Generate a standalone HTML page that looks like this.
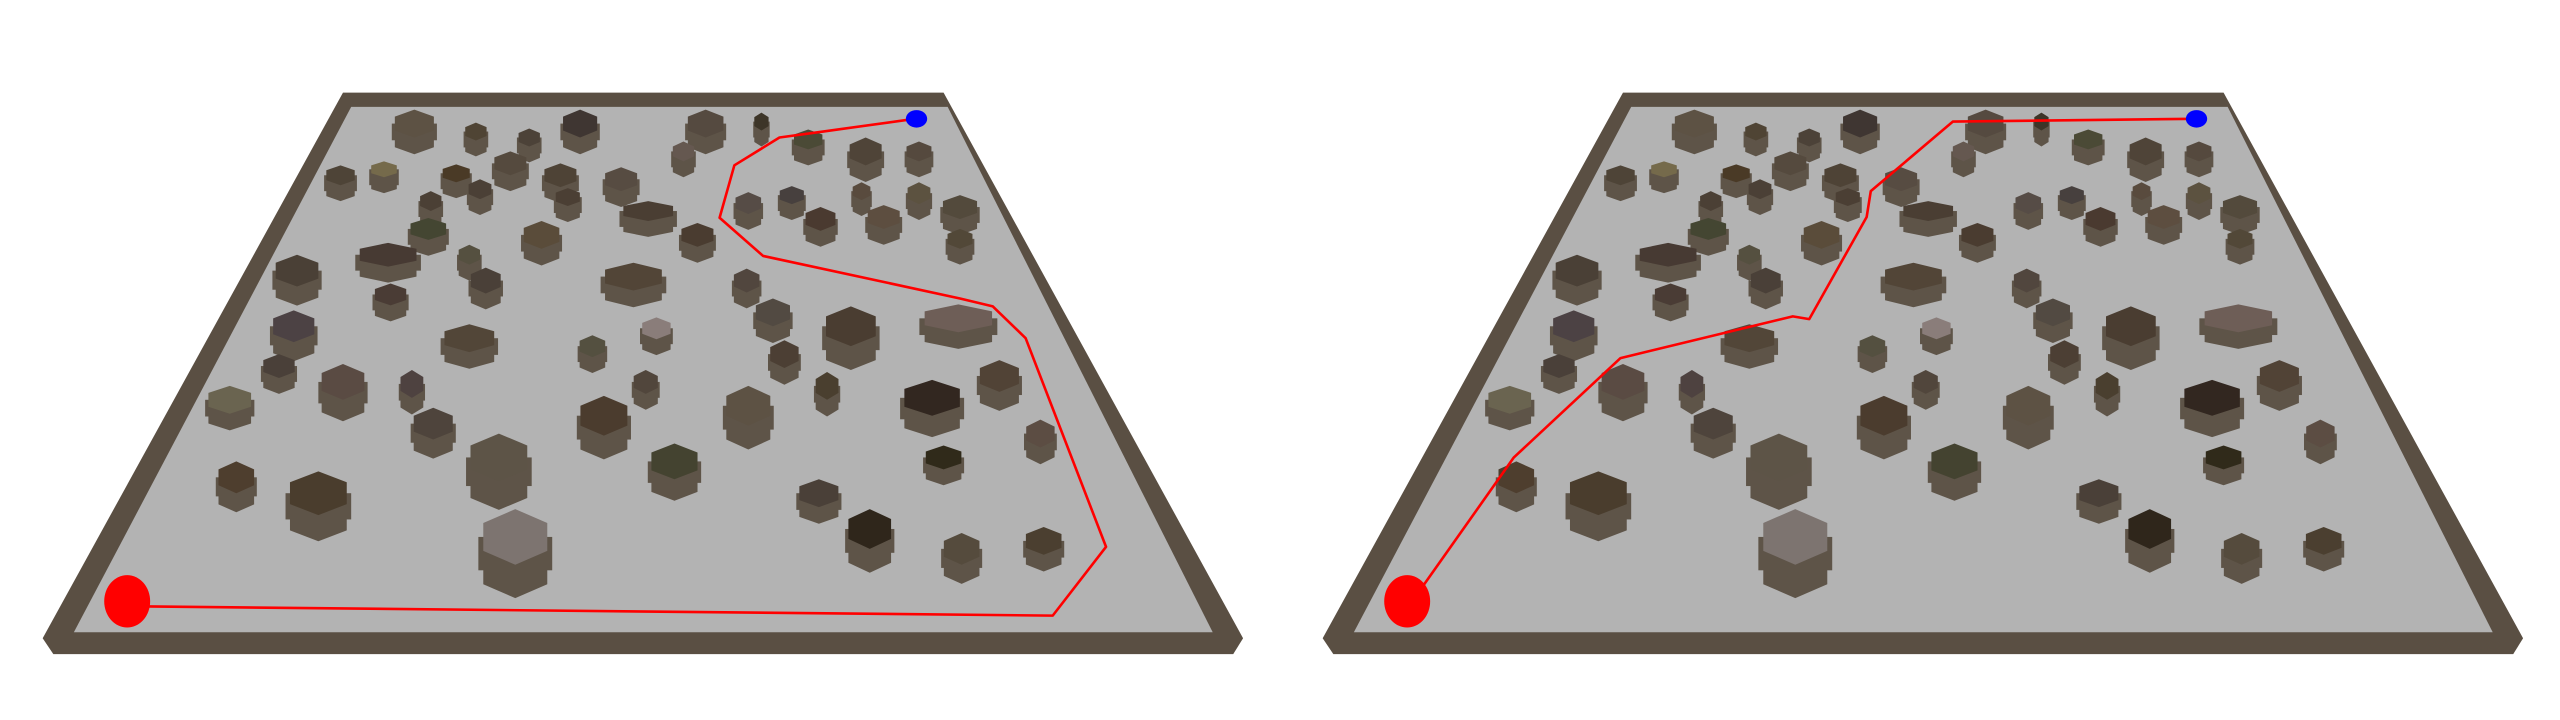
<!DOCTYPE html>
<html><head><meta charset="utf-8"><style>
html,body{margin:0;padding:0;background:#fff;width:2560px;height:720px;overflow:hidden}
svg{position:absolute;top:60px;width:1280px;height:620px}
</style></head><body>
<svg id="p0" style="left:0" viewBox="0 0 1560 1560" preserveAspectRatio="none"></svg>
<svg id="p1" style="left:1280px" viewBox="0 0 1560 1560" preserveAspectRatio="none"></svg>
<script>
const obsX=[505,580,645,707,860,928,985,1055,1120,833,415,468,556,622,585,683,692,757,790,525,912,965,1050,1120,1170,1000,1077,1170,850,660,522,473,572,592,362,476,772,910,942,1037,1168,800,722,572,358,340,418,502,956,1008,1218,1136,787,736,912,528,280,1268,1150,822,608,288,388,998,1060,1172,1272,628];
const obsY=[160,180,195,160,160,155,200,230,230,230,290,275,285,260,325,290,345,300,380,355,360,340,330,335,370,400,395,450,440,440,425,490,490,555,530,590,545,555,635,670,650,675,720,700,670,770,810,815,740,820,795,850,810,895,870,915,855,940,1000,1010,1000,1050,1090,1090,1180,1230,1210,1200];
const obsW=[55,30,30,48,50,20,40,45,35,30,40,36,38,45,32,45,34,45,70,30,36,34,25,32,48,42,45,35,45,50,50,80,30,42,60,44,80,36,48,70,95,40,36,70,58,44,60,32,40,32,55,78,34,66,62,55,60,40,50,65,80,50,80,55,60,50,50,90];
const obsH=[70,45,45,70,70,45,50,70,50,50,50,40,45,60,50,60,45,60,50,50,55,45,45,55,60,60,60,50,60,70,55,60,50,65,80,55,70,60,70,100,70,55,55,70,80,60,90,70,70,70,80,90,60,100,100,80,70,70,60,90,120,80,110,70,100,80,70,140];
const obsC=["#5d5244","#4f4434","#4c4238","#3f3632","#554a40","#3d3528","#4b4a36","#4f4438","#55493e","#655850","#4e4437","#756a4b","#4a3a26","#554a3e","#4b4036","#4e4336","#4b3f34","#574c42","#4a3e33","#4b4035","#564c46","#47403e","#594b3e","#5c5240","#534a3c","#4a3a30","#5d4e40","#524838","#4a3c30","#5a4c3a","#444632","#473a33","#555040","#4a4038","#4a4036","#4a3c35","#524537","#51463e","#524a42","#4a3d31","#6e5e57","#8a7d7a","#545040","#524638","#4c4244","#4a4039","#5a4b43","#4e4240","#4c3f34","#4a3f2f","#514336","#322720","#51463c","#4b3c2e","#5d5244","#4e443c","#6a6450","#5c4d43","#302a1a","#444330","#5d5447","#4e3e2e","#4a3d2d","#4a4038","#2f261b","#554b3d","#4b3f30","#7d7470"];
const pathLX=[150,180,1283,1348,1250,1210,1170,930,877,895,950,1003,1115];
const pathLY=[1362,1375,1398,1225,700,620,600,493,397,265,195,180,148];
const pathRX=[150,172,285,415,425,625,645,715,720,820,1115];
const pathRY=[1362,1330,1000,750,745,645,652,395,330,155,148];
const NS="http://www.w3.org/2000/svg";
function mk(svg,tag,attrs){const e=document.createElementNS(NS,tag);for(const k in attrs)e.setAttribute(k,attrs[k]);svg.appendChild(e);return e;}
function hex(cx,cy,w,h){const p=[];for(let i=0;i<6;i++){const a=Math.PI/6+i*Math.PI/3;p.push((cx+Math.cos(a)*w/2).toFixed(1)+","+(cy+Math.sin(a)*h/2).toFixed(1));}return p.join(" ");}
function build(svg,px,py,pname){
  const defs=mk(svg,"defs",{});
  defs.innerHTML='<filter id="n'+pname+'" x="0" y="0" width="1" height="1"><feTurbulence type="fractalNoise" baseFrequency="0.9" numOctaves="1" result="t"/><feColorMatrix in="t" type="matrix" values="0 0 0 0 0.36  0 0 0 0 0.32  0 0 0 0 0.27  0 0 0 0.6 0.4"/><feComposite in2="SourceGraphic" operator="in"/></filter>';
  let e=mk(svg,"polygon",{points:"418,82 1150,82 1515,1455 1503,1495 65,1495 52,1455",fill:"#5a4f43"});
  
  
  e=mk(svg,"polygon",{points:"428,118 1155,118 1478,1440 90,1440",fill:"#b3b3b3"});
  
  
  for(let i=0;i<obsX.length;i++){
    const g=mk(svg,"g",{});
    
    
    const x=obsX[i],y=obsY[i],w=obsW[i],h=obsH[i],d=Math.max(40,h*0.6);
    mk(g,"polygon",{points:hex(x,y+d,w,h),fill:"#5e5448"});
    mk(g,"rect",{x:x-w/2,y:y,width:w,height:d,fill:"#5e5448"});
    mk(g,"polygon",{points:hex(x,y,w,h),fill:obsC[i]});
  }
  const pts=px.map((v,i)=>v+","+py[i]).join(" ");
  e=mk(svg,"polyline",{points:pts,fill:"none",stroke:"#ff0000","stroke-width":"2.6","vector-effect":"non-scaling-stroke","stroke-linejoin":"round"});
  
  
  e=mk(svg,"ellipse",{cx:155,cy:1362,rx:28,ry:66,fill:"#ff0000"});
  
  
  e=mk(svg,"ellipse",{cx:1117,cy:148,rx:13,ry:22,fill:"#0000ff"});
  
  
}
build(document.getElementById("p0"),pathLX,pathLY,"a");
build(document.getElementById("p1"),pathRX,pathRY,"b");
</script>
</body></html>
